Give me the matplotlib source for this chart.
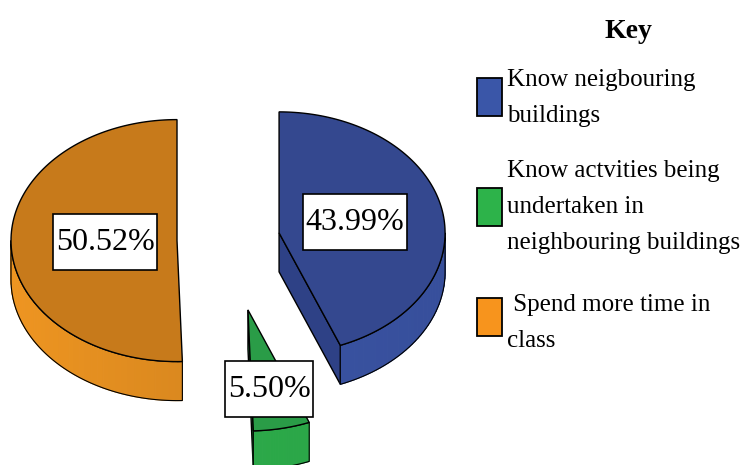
import numpy as np
import matplotlib
matplotlib.use("Agg")
import matplotlib.pyplot as plt
from matplotlib.patches import Polygon, Rectangle
from matplotlib.path import Path
from matplotlib.colors import to_rgb

plt.rcParams['font.family'] = ['Liberation Serif', 'DejaVu Serif']

# données du graphique
categories = ["Know neigbouring\nbuildings",
              "Know actvities being\nundertaken in\nneighbouring buildings",
              " Spend more time in\nclass"]
shares = [43.99, 5.50, 50.52]
pct_labels = ["43.99%", "5.50%", "50.52%"]

top_colors = ['#34488F', '#2A9C47', '#C77A1B']
side_dark = ['#2E4186', '#26923F', '#C87D1D']
side_light = ['#3C57A8', '#2DAE4B', '#EE9521']
key_colors = ['#3A56A8', '#2DB34A', '#F7941D']

# géométrie du camembert 3D (en pixels)
cx0, cy0 = 228, 240
a, b = 166, 121
depth = 39
explode = [52, 98, 51]
start = 90.0

fig = plt.figure(figsize=(7.46, 4.65), dpi=100)
ax = fig.add_axes([0, 0, 1, 1])
ax.set_xlim(0, 746)
ax.set_ylim(465, 0)
ax.axis('off')


def arc(cx, cy, t0, t1, n=120):
    t = np.radians(np.linspace(t0, t1, n))
    return np.column_stack([cx + a * np.cos(t), cy - b * np.sin(t)])


def lerp(c1, c2, f):
    c1, c2 = np.array(to_rgb(c1)), np.array(to_rgb(c2))
    return tuple(c1 + (c2 - c1) * f)


def label_box(x0, y0, width, height, mutation_size):
    # cadre rectangulaire : marge horizontale faible, verticale plus grande
    px, py = 0.08 * mutation_size, 0.42 * mutation_size
    x0, y0 = x0 - px, y0 - py
    x1, y1 = x0 + width + 2 * px, y0 + height + 2 * py
    return Path([(x0, y0), (x1, y0), (x1, y1), (x0, y1), (x0, y0)], closed=True)


fracs = np.array(shares) / np.sum(shares)
angles = []
t0 = start
for f in fracs:
    t1 = t0 - 360 * f
    angles.append((t0, t1))
    t0 = t1

# ordre de dessin : arrière puis avant
order = [2, 0, 1]
centers = []
for i, (t0, t1) in enumerate(angles):
    m = np.radians((t0 + t1) / 2)
    centers.append((cx0 + explode[i] * np.cos(m),
                    cy0 - explode[i] * np.sin(m) * b / a))

for i in order:
    t0, t1 = angles[i]
    cx, cy = centers[i]

    # face radiale visible (bord de fin de tranche)
    if np.cos(np.radians(t1)) > 0:
        ex, ey = cx + a * np.cos(np.radians(t1)), cy - b * np.sin(np.radians(t1))
        face = [(cx, cy), (ex, ey), (ex, ey + depth), (cx, cy + depth)]
        ax.add_patch(Polygon(face, closed=True, fc=side_dark[i], ec='black', lw=1.0, zorder=2))

    # paroi extérieure : partie avant seulement, en dégradé
    lo, hi = t1, t0
    segs = []
    for k in range(-2, 2):
        s0, s1 = -180 + 360 * k, 0 + 360 * k
        u0, u1 = max(lo, s0), min(hi, s1)
        if u1 > u0:
            segs.append((u0, u1))
    for u0, u1 in segs:
        ts = np.linspace(u0, u1, 40)
        for j in range(len(ts) - 1):
            pts = arc(cx, cy, ts[j], ts[j + 1], 4)
            quad = np.vstack([pts, pts[::-1] + [0, depth]])
            c = np.cos(np.radians((ts[j] + ts[j + 1]) / 2))
            f = (1 - c) / 2 if i == 2 else (1 + 0.3 * (1 - c)) / 1.6
            col = lerp(side_dark[i], side_light[i], f)
            ax.add_patch(Polygon(quad, closed=True, fc=col, ec=col, lw=0.8, zorder=2))
        pts = arc(cx, cy, u0, u1)
        outline = np.vstack([pts, pts[::-1] + [0, depth]])
        ax.add_patch(Polygon(outline, closed=True, fc='none', ec='black', lw=0.8, zorder=2))
        ax.plot(pts[:, 0], pts[:, 1], ls=(0, (3, 3)), color='#3a3a3a', lw=0.8, zorder=2)

    # surface supérieure
    pts = arc(cx, cy, t0, t1)
    top = np.vstack([[cx, cy], pts])
    ax.add_patch(Polygon(top, closed=True, fc=top_colors[i], ec='black', lw=1.0, zorder=3))

# étiquettes de pourcentage
label_pos = [(355, 222), (269, 389), (105, 242)]
for i in range(3):
    ax.text(label_pos[i][0], label_pos[i][1], pct_labels[i], fontsize=23,
            ha='center', va='center', zorder=5,
            bbox=dict(boxstyle=label_box, fc='white', ec='black', lw=1.2))

# légende (clé)
ax.text(628, 32, 'Key', fontsize=20, fontweight='bold', ha='center', va='center')
box_y = [97, 207, 317]
text_y = [98, 207, 323]
for i in range(3):
    ax.add_patch(Rectangle((477, box_y[i] - 19), 25, 38, fc=key_colors[i],
                           ec='black', lw=1.3, zorder=4))
    ax.text(507, text_y[i], categories[i], fontsize=18, ha='left', va='center',
            linespacing=1.8, zorder=4)

fig.savefig('out.png', dpi=100)
